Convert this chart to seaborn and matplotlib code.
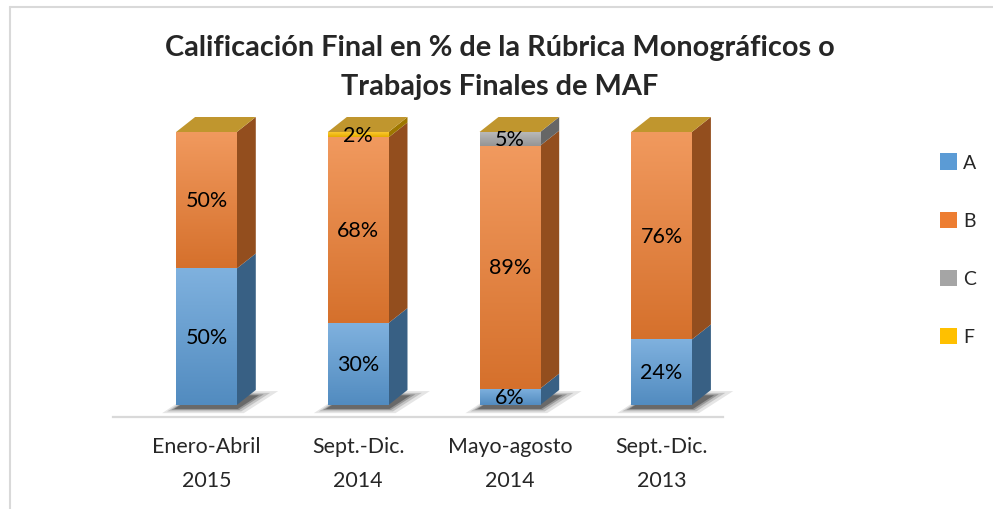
import numpy as np
import pandas as pd
import matplotlib
matplotlib.use("Agg")
import matplotlib.pyplot as plt
import matplotlib.colors as mcolors
from matplotlib.patches import Polygon, Patch
from matplotlib.lines import Line2D
import seaborn as sns

# data
categories = ["Enero-Abril\n2015", "Sept.-Dic.\n2014", "Mayo-agosto\n2014", "Sept.-Dic.\n2013"]
grade_a = [50, 30, 6, 24]
grade_b = [50, 68, 89, 76]
grade_c = [0, 0, 5, 0]
grade_f = [0, 2, 0, 0]
series_names = ["A", "B", "C", "F"]
series_colors = ["#5B9BD5", "#ED7D31", "#A5A5A5", "#FFC000"]
title = "Calificación Final en % de la Rúbrica Monográficos o\nTrabajos Finales de MAF"

df = pd.DataFrame({"periodo": categories, "A": grade_a, "B": grade_b,
                   "C": grade_c, "F": grade_f})

sns.set_style("white")
plt.rcParams["font.family"] = ["Lato", "DejaVu Sans"]

W, H = 993, 510
fig = plt.figure(figsize=(W / 100, H / 100), dpi=100)
ax = fig.add_axes([113 / W, 92 / H, 610 / W, 285 / H])

# stacked bars, one seaborn call per grade
bottom = np.zeros(len(categories))
segments = []
for name, color in zip(series_names, series_colors):
    vals = df[name].to_numpy(float)
    n0 = len(ax.patches)
    sns.barplot(data=df, x="periodo", y=name, bottom=bottom, color=color,
                width=0.4, saturation=1, errorbar=None, linewidth=0,
                zorder=3, ax=ax)
    for p, v in zip(ax.patches[n0:], vals):
        segments.append((p, color, v))
    bottom = bottom + vals

xlim = (-0.616, 3.405)
ylim = (-4.4, 100)
ux = 610 / (xlim[1] - xlim[0])
uy = 285 / (ylim[1] - ylim[0])
dx, dy = 19 / ux, 15 / uy

tops = {}
for p, color, v in segments:
    if p.get_height() <= 0:
        continue
    x0, y0, w, h = p.get_x(), p.get_y(), p.get_width(), p.get_height()
    x1, y1 = x0 + w, y0 + h
    rgb = np.array(mcolors.to_rgb(color))
    light = rgb + (1 - rgb) * 0.22
    dark = rgb * 0.9
    t = np.linspace(0, 1, 64)[:, None]
    grad = (dark[None, :] * (1 - t) + light[None, :] * t)[:, None, :]
    img = ax.imshow(grad, extent=(x0, x1, y0, y1), origin="lower",
                    aspect="auto", zorder=3.1, interpolation="bilinear")
    img.set_clip_path(p)
    side = Polygon([(x1, y0), (x1 + dx, y0 + dy), (x1 + dx, y1 + dy), (x1, y1)],
                   closed=True, facecolor=rgb * 0.62, edgecolor="none",
                   zorder=2.9, clip_on=False)
    ax.add_patch(side)
    key = round(x0, 3)
    if key not in tops or y1 > tops[key][1]:
        tops[key] = (x0, y1, w)
    ax.text(x0 + w / 2, y0 + h / 2, f"{v:.0f}%", ha="center", va="center",
            fontsize=15.5, color="black", zorder=6)

for x0, top, w in tops.values():
    x1 = x0 + w
    ax.add_patch(Polygon([(x0, top), (x1, top), (x1 + dx, top + dy), (x0 + dx, top + dy)],
                         closed=True, facecolor="#C0962E", edgecolor="none",
                         zorder=3.2, clip_on=False))
    # soft floor shadow
    for grow, a in [(14, 0.10), (9, 0.15), (5, 0.22), (2, 0.30)]:
        gx, gy = grow / ux, grow / uy * 0.35
        ax.add_patch(Polygon([(x0 - gx, -gy - 1.2), (x1 + gx * 0.5, -gy - 1.2),
                              (x1 + dx + gx * 1.6, dy * 0.6 + gy),
                              (x0 + dx, dy * 0.6 + gy)],
                             closed=True, facecolor="black", alpha=a,
                             edgecolor="none", zorder=2, clip_on=False))

ax.set_xlim(*xlim)
ax.set_ylim(*ylim)
ax.set_xlabel("")
ax.set_ylabel("")
ax.set_yticks([])
ax.set_xticks(range(len(categories)))
ax.set_xticklabels(categories, fontsize=15.4, linespacing=1.85)
ax.tick_params(axis="x", length=0, pad=14)
for s in ["left", "right", "top"]:
    ax.spines[s].set_visible(False)
ax.spines["bottom"].set_color("#D9D9D9")
ax.spines["bottom"].set_linewidth(1.6)
ax.set_facecolor("none")

fig.text(0.503, 1 - 35 / H, title, ha="center", va="top", fontsize=20.8,
         fontweight="bold", linespacing=1.6)

handles = [Patch(facecolor=c, edgecolor="none", label=n)
           for n, c in zip(series_names, series_colors)]
fig.legend(handles=handles, loc="upper left", bbox_to_anchor=(922 / W, 1 - 137 / H),
           frameon=False, fontsize=14, handlelength=0.9, handleheight=0.9,
           handletextpad=0.3, labelspacing=2.07)

# chart area border
fig.add_artist(Line2D([10 / W, 10 / W], [0, 1 - 7.5 / H], color="#D9D9D9", lw=1.5))
fig.add_artist(Line2D([10 / W, 1], [1 - 7.5 / H, 1 - 7.5 / H], color="#D9D9D9", lw=1.5))

fig.savefig("out.png", dpi=100)
